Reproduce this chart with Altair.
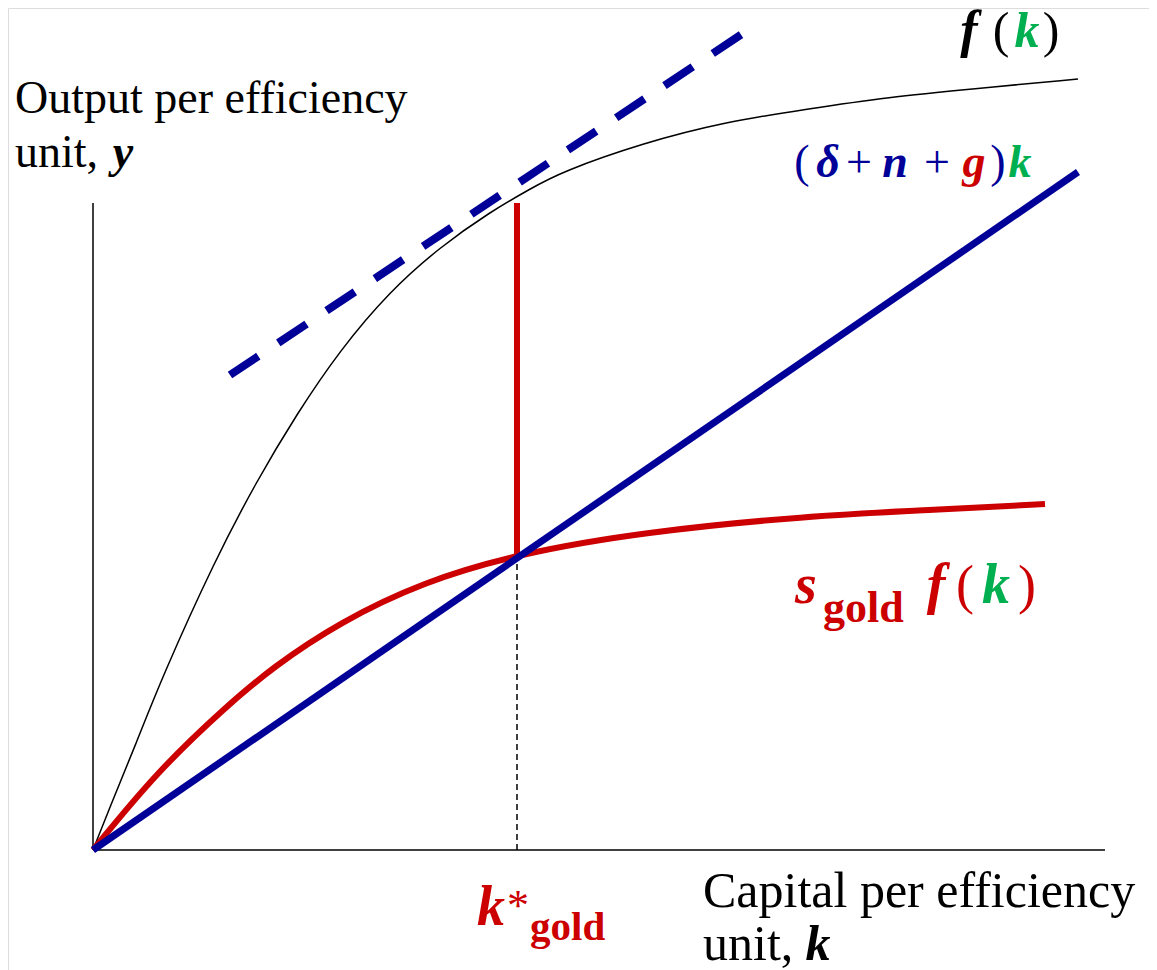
import altair as alt
import pandas as pd

# ---- curves (k = capital per efficiency unit, y = output per efficiency unit) ----
f_k = [0, 0.17, 0.437, 0.687, 1.22, 1.637, 2.037, 2.47, 2.97, 3.47, 3.97, 4.37, 4.68, 5.50, 6.32, 7.14, 7.96, 8.78, 9.85]
f_y = [0, 0.43, 1.08, 1.72, 2.90, 3.69, 4.36, 5.00, 5.59, 6.03, 6.38, 6.61, 6.78, 7.07, 7.28, 7.41, 7.53, 7.61, 7.71]

s_k = [0, 0.637, 1.337, 1.80, 2.47, 3.30, 4.24, 5.50, 7.14, 8.37, 9.52]
s_y = [0, 0.78, 1.44, 1.83, 2.28, 2.68, 2.96, 3.18, 3.34, 3.40, 3.46]

dep_k = [0, 9.85]
dep_y = [0, 6.78]

tan_k = [1.37, 6.52]
tan_y = [4.75, 8.18]

k_gold = 4.24
k_gold_y = 2.96
y_top = 6.47
x_end = 10.12

# ---- labels ----
# long strings, left aligned
long_txt = ["Output per efficiency", "unit,", "Capital per efficiency", "unit,"]
long_k = [-0.78, -0.78, 6.10, 6.10]
long_y = [7.37, 6.83, -0.57, -1.10]
long_size = [46, 46, 50, 50]
long_col = ["#000000"] * 4

# single upright glyphs, centred
up_txt = ["(", ")", "(", "+", "+", ")", "(", ")", "*"]
up_k = [9.08, 9.58, 7.09, 7.66, 8.44, 9.05, 8.72, 9.34, 4.25]
up_y = [8.03, 8.03, 6.73, 6.73, 6.73, 6.73, 2.47, 2.47, -0.70]
up_size = [50, 50, 46, 46, 46, 46, 54, 54, 44]
up_col = ["#000000", "#000000", "#000099", "#000099", "#000099", "#000099", "#CC0000", "#CC0000", "#CC0000"]

# bold italic glyphs, centred
bi_txt = ["y", "k", "f", "k", "δ", "n", "g", "k", "s", "f", "k", "k"]
bi_k = [0.30, 7.25, 8.76, 9.34, 7.35, 8.02, 8.81, 9.27, 7.13, 8.43, 9.03, 3.98]
bi_y = [6.83, -1.10, 8.03, 8.03, 6.73, 6.73, 6.73, 6.73, 2.47, 2.47, 2.47, -0.75]
bi_size = [46, 50, 52, 50, 46, 46, 46, 46, 56, 56, 56, 56]
bi_col = ["#000000", "#000000", "#000000", "#00B050", "#000099", "#000099", "#CC0000", "#00B050",
          "#CC0000", "#CC0000", "#00B050", "#CC0000"]

# bold subscripts, left aligned
b_txt = ["gold", "gold"]
b_k = [7.30, 4.37]
b_y = [2.28, -0.90]
b_size = [44, 41]
b_col = ["#CC0000", "#CC0000"]

W, H = 1141, 962
xs = alt.Scale(domain=[-0.85, 10.56], nice=False, zero=False)
ys = alt.Scale(domain=[-1.20, 8.42], nice=False, zero=False)
X = lambda f="k": alt.X(f"{f}:Q", scale=xs, axis=None)
Y = lambda f="y": alt.Y(f"{f}:Q", scale=ys, axis=None)

def line(ks, vs, **kw):
    df = pd.DataFrame({"k": ks, "y": vs, "o": list(range(len(ks)))})
    return alt.Chart(df).mark_line(**kw).encode(x=X(), y=Y(), order="o:Q")

axes_df = pd.DataFrame({"k": [0, 0], "y": [0, 0], "k2": [0, x_end], "y2": [y_top, 0]})
axes = alt.Chart(axes_df).mark_rule(color="#000000", strokeWidth=1.5).encode(
    x=X(), y=Y(), x2="k2:Q", y2="y2:Q")

kdash_df = pd.DataFrame({"k": [k_gold], "y": [0], "y2": [k_gold_y]})
kdash = alt.Chart(kdash_df).mark_rule(color="#000000", strokeWidth=1.5, strokeDash=[6, 4]).encode(
    x=X(), y=Y(), y2="y2:Q")

kred_df = pd.DataFrame({"k": [k_gold], "y": [k_gold_y], "y2": [y_top]})
kred = alt.Chart(kred_df).mark_rule(color="#CC0000", strokeWidth=6).encode(
    x=X(), y=Y(), y2="y2:Q")

f_line = line(f_k, f_y, color="#000000", strokeWidth=1.5, interpolate="basis")
tan_line = line(tan_k, tan_y, color="#000099", strokeWidth=8, strokeDash=[34, 24])
s_line = line(s_k, s_y, color="#CC0000", strokeWidth=6, interpolate="basis")
dep_line = line(dep_k, dep_y, color="#000099", strokeWidth=7)

def texts(txt, ks, vs, sizes, cols, align, **kw):
    df = pd.DataFrame({"t": txt, "k": ks, "y": vs, "s": sizes, "c": cols})
    return alt.Chart(df).mark_text(align=align, baseline="alphabetic", font="Liberation Serif", **kw).encode(
        x=X(), y=Y(), text="t:N", size=alt.Size("s:Q", scale=None), color=alt.Color("c:N", scale=None))

t_long = texts(long_txt, long_k, long_y, long_size, long_col, "left")
t_up = texts(up_txt, up_k, up_y, up_size, up_col, "center")
t_bi = texts(bi_txt, bi_k, bi_y, bi_size, bi_col, "center", fontWeight="bold", fontStyle="italic")
t_b = texts(b_txt, b_k, b_y, b_size, b_col, "left", fontWeight="bold")

chart = alt.layer(axes, kdash, f_line, tan_line, kred, s_line, dep_line, t_long, t_up, t_bi, t_b).properties(
    width=W, height=H, padding=0, autosize=alt.AutoSizeParams(type="none")
).configure_view(stroke=None, strokeWidth=0).configure(background="#ffffff")

chart.save("out.html", embed_options={"renderer": "svg", "actions": False})
